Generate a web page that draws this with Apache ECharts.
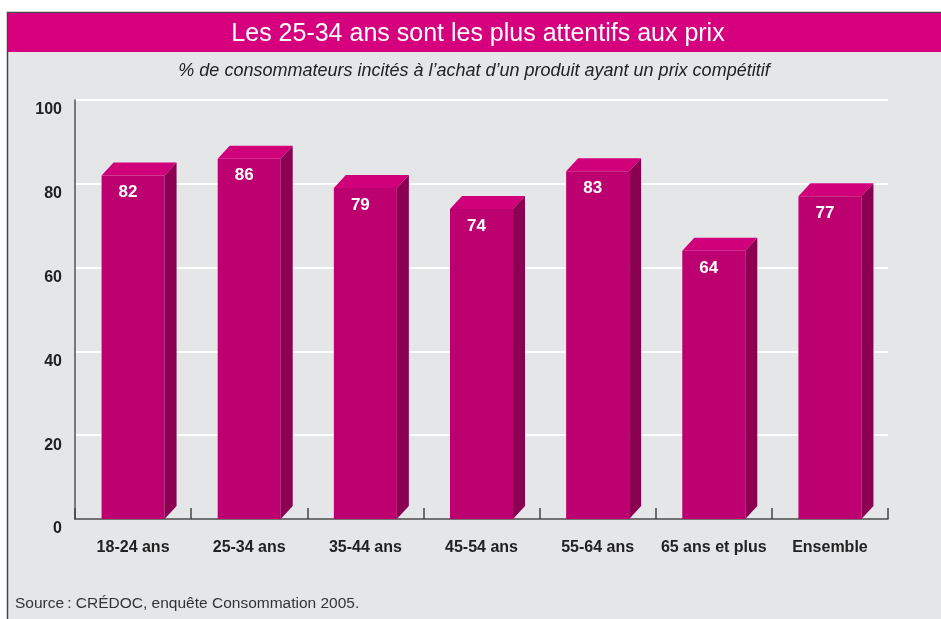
<!DOCTYPE html>
<html>
<head>
<meta charset="utf-8">
<script src="https://cdn.jsdelivr.net/npm/echarts@6/dist/echarts.min.js"></script>
<style>
  html, body { margin: 0; padding: 0; background: #fff; }
  #chart { width: 941px; height: 619px; }
</style>
</head>
<body>
<div id="chart"></div>
<script>
var categories = ['18-24 ans', '25-34 ans', '35-44 ans', '45-54 ans', '55-64 ans', '65 ans et plus', 'Ensemble'];
var values = [82, 86, 79, 74, 83, 64, 77];
var yTicks = [0, 20, 40, 60, 80, 100];

var chart = echarts.init(document.getElementById('chart'));
var font = "'Liberation Sans Narrow', 'Liberation Sans', Arial, sans-serif";
var plain = "'Liberation Sans', Arial, sans-serif";

// bar 3D : face avant + dessus + cote
function renderBar(params, api) {
    var top = api.coord([api.value(0), api.value(1)]);
    var base = api.coord([api.value(0), 0]);
    var w = 63, dx = 12, dy = 13;
    var l = top[0] - w / 2, r = top[0] + w / 2;
    return {
        type: 'group',
        children: [{
            type: 'rect',
            shape: { x: l, y: top[1], width: w, height: base[1] - top[1] },
            style: { fill: '#bd006f' }
        }, {
            type: 'polygon',
            shape: { points: [[l, top[1]], [l + dx, top[1] - dy], [r + dx, top[1] - dy], [r, top[1]]] },
            style: { fill: '#cf007a' }
        }, {
            type: 'polygon',
            shape: { points: [[r, top[1]], [r + dx, top[1] - dy], [r + dx, base[1] - dy], [r, base[1]]] },
            style: { fill: '#8c0053' }
        }, {
            type: 'text',
            style: {
                x: top[0] - 5, y: top[1] + 17,
                text: String(api.value(1)),
                fill: '#fff',
                font: 'bold 17px ' + font,
                align: 'center', verticalAlign: 'middle'
            }
        }]
    };
}

option = {
    backgroundColor: '#fff',
    graphic: [{
        type: 'rect',
        z: -10,
        shape: { x: 7.5, y: 12.5, width: 945, height: 620 },
        style: { fill: '#e5e6e8', stroke: '#444', lineWidth: 1.5 }
    }, {
        type: 'rect',
        z: -9,
        shape: { x: 8, y: 13, width: 940, height: 39 },
        style: { fill: '#d6007f' }
    }, {
        type: 'text',
        x: 478, y: 34,
        style: {
            text: 'Les 25-34 ans sont les plus attentifs aux prix',
            fill: '#fff', font: '25px ' + plain,
            align: 'center', verticalAlign: 'middle'
        }
    }, {
        type: 'text',
        x: 474, y: 71,
        style: {
            text: '% de consommateurs incités à l\u2019achat d\u2019un produit ayant un prix compétitif',
            fill: '#222', font: 'italic 18px ' + plain,
            align: 'center', verticalAlign: 'middle'
        }
    }, {
        type: 'text',
        x: 15, y: 604,
        style: {
            text: 'Source\u202f: CRÉDOC, enquête Consommation 2005.',
            fill: '#333', font: '15.5px ' + plain,
            align: 'left', verticalAlign: 'middle'
        }
    }],
    grid: {
        left: 75,
        right: 53,
        top: 100,
        bottom: 100
    },
    xAxis: {
        type: 'category',
        data: categories,
        axisLine: { lineStyle: { color: '#444', width: 1.5 } },
        axisTick: { show: true, inside: true, length: 11, interval: 0, lineStyle: { color: '#444', width: 1.5 } },
        axisLabel: { interval: 0, color: '#222', fontSize: 16, fontWeight: 'bold', fontFamily: font, margin: 21 }
    },
    yAxis: {
        type: 'value',
        min: yTicks[0],
        max: yTicks[yTicks.length - 1],
        interval: 20,
        axisLine: { show: true, lineStyle: { color: '#555', width: 1.5 } },
        axisTick: { show: false },
        splitLine: { show: true, lineStyle: { color: '#fff', width: 2 } },
        axisLabel: {
            color: '#222', fontSize: 16, fontWeight: 'bold', fontFamily: font,
            margin: 13, verticalAlign: 'top', padding: [2, 0, 0, 0]
        }
    },
    series: [{
        type: 'custom',
        renderItem: renderBar,
        clip: false,
        data: values.map(function (v, i) { return [i, v]; }),
        encode: { x: 0, y: 1 }
    }]
};

chart.setOption(option);

window.onresize = function () {
    chart.resize();
};
</script>
</body>
</html>
